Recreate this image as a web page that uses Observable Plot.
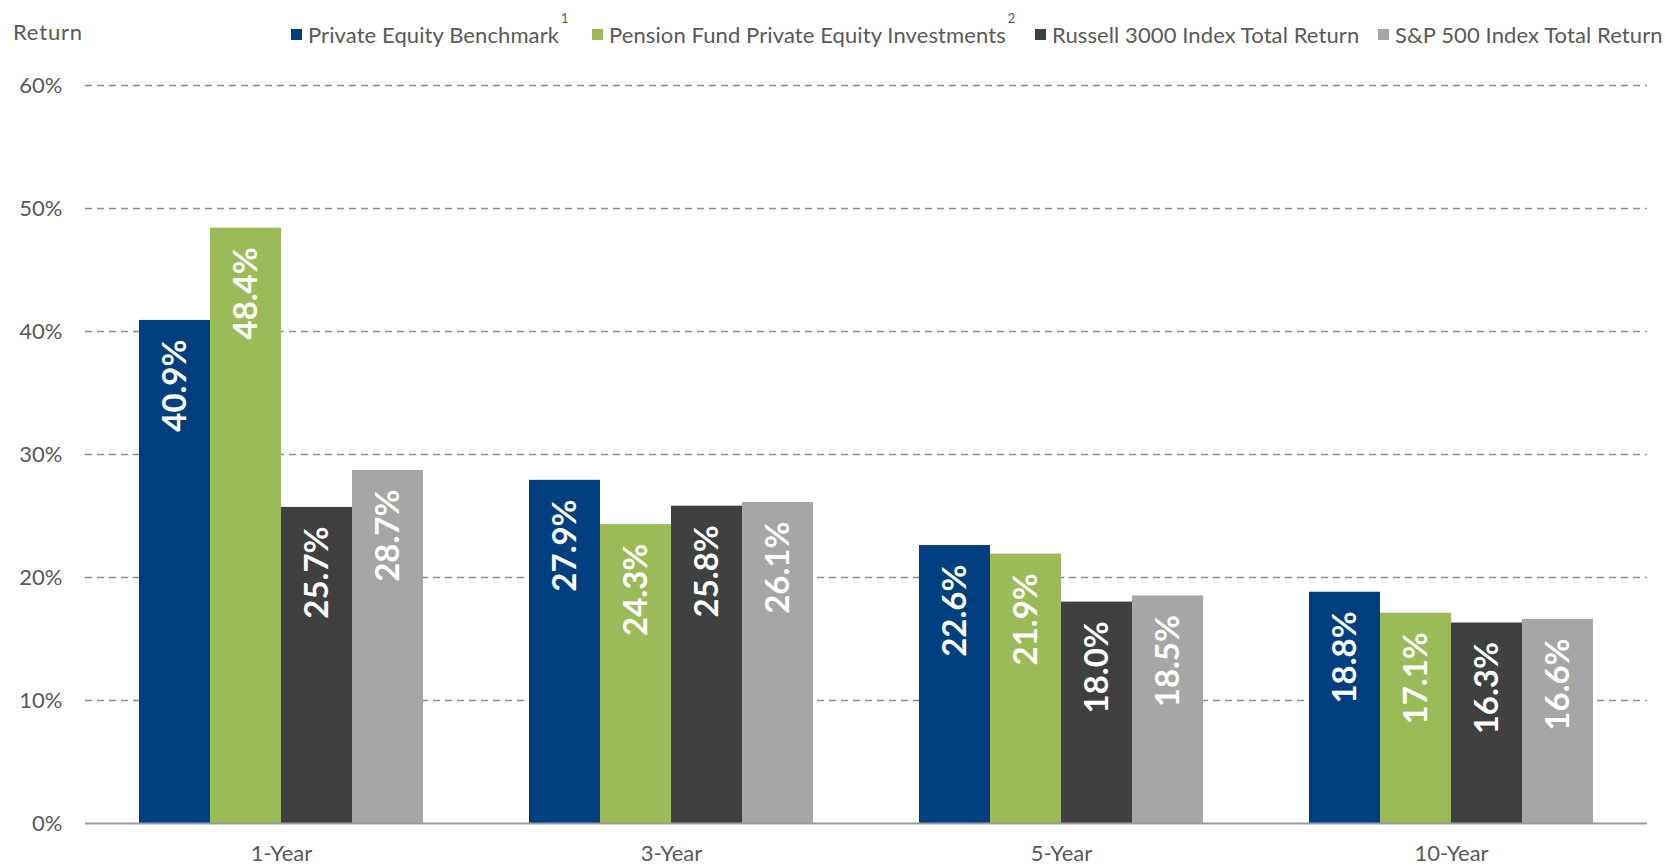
<!DOCTYPE html>
<html>
<head>
<meta charset="utf-8">
<script src="https://cdn.jsdelivr.net/npm/d3@7"></script>
<script src="https://cdn.jsdelivr.net/npm/@observablehq/plot@0.6"></script>
<style>
  html, body { margin: 0; padding: 0; background: #fff; }
  body { font-family: "Century Gothic", Lato, "Open Sans", sans-serif; color: #595959; }
  #wrap { position: relative; width: 1665px; height: 866px; }
  #header { position: relative; width: 1665px; height: 56px; }
  .ytitle { position: absolute; left: 13px; top: 18px; font-size: 22px; letter-spacing: 0.8px; color: #595959; }
  .item { position: absolute; top: 21px; font-size: 22px; letter-spacing: 0.1px; color: #595959; white-space: nowrap; display: flex; align-items: center; }
  .sw { width: 11px; height: 11px; display: inline-block; margin-right: 6px; }
  .sup { position: relative; top: -17px; margin-left: 2px; font-size: 13px; color: #595959; }
  #chart { position: relative; width: 1665px; height: 810px; }
  #chart svg { position: absolute; left: 0; top: 0; }
</style>
</head>
<body>
<div id="wrap">
  <div id="header"></div>
  <div id="chart"></div>
</div>
<script>
const categories = ["1-Year", "3-Year", "5-Year", "10-Year"];
const seriesNames = [
  "Private Equity Benchmark",
  "Pension Fund Private Equity Investments",
  "Russell 3000 Index Total Return",
  "S&P 500 Index Total Return"
];
const benchmark = [40.9, 27.9, 22.6, 18.8];
const pension   = [48.4, 24.3, 21.9, 17.1];
const russell   = [25.7, 25.8, 18.0, 16.3];
const sp500     = [28.7, 26.1, 18.5, 16.6];
const yTicks = [0, 10, 20, 30, 40, 50, 60];
const colors = ["#003F7F", "#9BBB59", "#404040", "#A6A6A6"];
const footnotes = ["1", "2", "", ""];

const seriesValues = [benchmark, pension, russell, sp500];
const data = categories.flatMap((c, i) =>
  seriesNames.map((s, j) => ({ period: c, series: s, value: seriesValues[j][i] }))
);

// Header: axis title + legend
const header = document.getElementById("header");
const t = document.createElement("div");
t.className = "ytitle";
t.textContent = "Return";
header.appendChild(t);
const legendX = [291, 592, 1035, 1378];
seriesNames.forEach((s, j) => {
  const it = document.createElement("div");
  it.className = "item";
  it.style.left = legendX[j] + "px";
  const sw = document.createElement("span");
  sw.className = "sw";
  sw.style.background = colors[j];
  it.appendChild(sw);
  const tx = document.createElement("span");
  tx.textContent = s;
  it.appendChild(tx);
  if (footnotes[j]) {
    const sp = document.createElement("span");
    sp.className = "sup";
    sp.textContent = footnotes[j];
    it.appendChild(sp);
  }
  header.appendChild(it);
});

const W = 1665, H = 810;
const margins = { marginLeft: 85, marginRight: 18, marginTop: 29, marginBottom: 43 };
const font = '"Century Gothic", Lato, "Open Sans", sans-serif';

// Background layer: grid, y tick labels
const back = Plot.plot({
  width: W, height: H, ...margins,
  style: { fontFamily: font, color: "#595959", background: "#fff" },
  y: { domain: [0, 60], axis: null },
  marks: [
    Plot.ruleY(yTicks.filter(d => d > 0), { stroke: "#8c8c8c", strokeWidth: 1.5, strokeDasharray: "7,5" }),
    Plot.text(yTicks, { y: d => d, text: d => d + "%", frameAnchor: "left", textAnchor: "end", dx: -23, fontSize: 22, fill: "#595959" })
  ]
});

// Foreground layer: bars, value labels, category axis
const front = Plot.plot({
  width: W, height: H, ...margins,
  style: { fontFamily: font, color: "#595959", background: "transparent" },
  fx: { domain: categories, paddingInner: 0.273, paddingOuter: 0.1365, label: null },
  x: { domain: seriesNames, axis: null, padding: 0 },
  y: { domain: [0, 60], axis: null },
  color: { domain: seriesNames, range: colors },
  marks: [
    Plot.barY(data, { fx: "period", x: "series", y: "value", fill: "series", inset: 0 }),
    Plot.text(data, {
      fx: "period", x: "series", y: "value",
      text: d => d.value.toFixed(1) + "%",
      rotate: -90, textAnchor: "end", lineAnchor: "middle",
      dy: 19, fill: "#fff", fontSize: 33, fontWeight: "bold"
    }),
    Plot.axisFx({ anchor: "bottom", tickSize: 0, tickPadding: 22, fontSize: 22, label: null })
  ]
});

// Baseline layer on top
const base = Plot.plot({
  width: W, height: H, ...margins,
  style: { background: "transparent" },
  y: { domain: [0, 60], axis: null },
  marks: [ Plot.ruleY([0], { stroke: "#999", strokeWidth: 2 }) ]
});

const chartDiv = document.getElementById("chart");
chartDiv.appendChild(back);
chartDiv.appendChild(front);
chartDiv.appendChild(base);
</script>
</body>
</html>
